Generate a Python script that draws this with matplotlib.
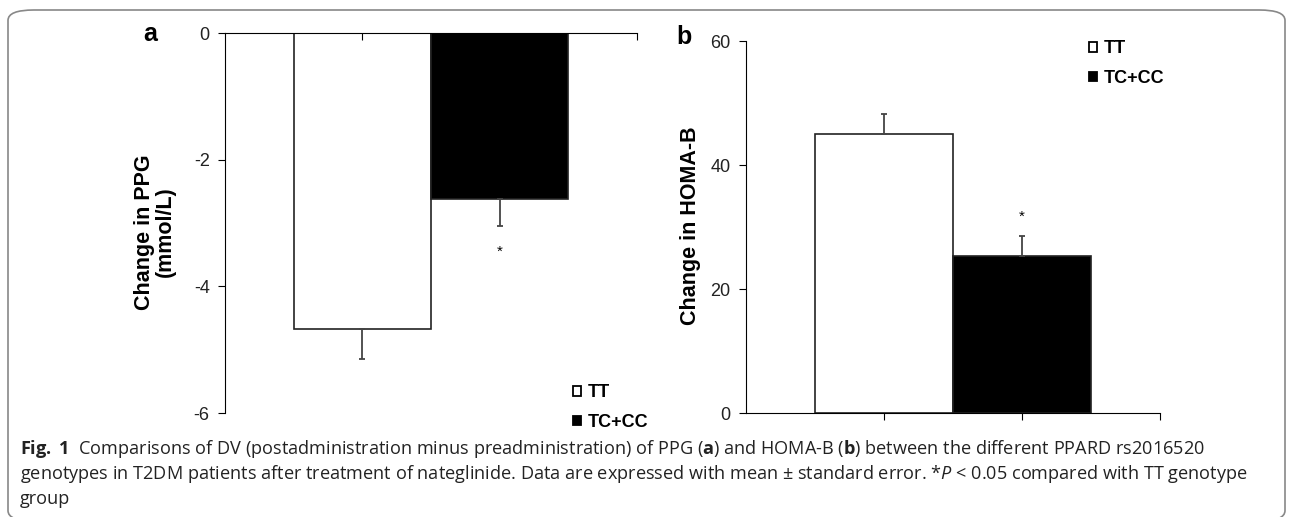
import matplotlib
matplotlib.use("Agg")
import matplotlib.pyplot as plt
from matplotlib.patches import Patch, FancyBboxPatch

# 폰트 설정
plt.rcParams['font.family'] = ['Liberation Sans', 'DejaVu Sans']
plt.rcParams['mathtext.fontset'] = 'custom'
plt.rcParams['mathtext.rm'] = 'Open Sans'
plt.rcParams['mathtext.bf'] = 'Open Sans:bold'
plt.rcParams['mathtext.it'] = 'Open Sans:italic'

# 데이터
groups = ["TT", "TC+CC"]
ppg_change = [-4.68, -2.62]
ppg_err = [0.47, 0.43]
homa_change = [45.0, 25.4]
homa_err = [3.2, 3.1]
bar_colors = ["white", "black"]

W, H = 1293, 517
fig = plt.figure(figsize=(W / 100, H / 100), dpi=100)

# 바깥 테두리
frame = FancyBboxPatch((8 / W, -4 / H), 1277 / W, (H - 10 + 4) / H,
                       boxstyle="round,pad=0,rounding_size=0.02",
                       transform=fig.transFigure, facecolor="none",
                       edgecolor="#888888", linewidth=1.2, clip_on=False)
fig.patches.append(frame)

x = [0, 1]
err_kw = dict(fmt="none", ecolor="#444444", elinewidth=1.3, capsize=2.5, capthick=1.3)

# (a) PPG
ax1 = fig.add_axes([225 / W, 1 - 413 / H, 412 / W, 380 / H])
ax1.bar(x, ppg_change, width=1.0, color=bar_colors, edgecolor="#222222", linewidth=1.2)
ax1.errorbar(x, ppg_change, yerr=[ppg_err, [0, 0]], **err_kw)
ax1.text(1, ppg_change[1] - ppg_err[1] - 0.4, "*", ha="center", va="center", fontsize=11)
ax1.set_xlim(-1, 2)
ax1.set_ylim(-6, 0)
ax1.set_yticks([0, -2, -4, -6])
ax1.set_yticklabels(["0", "-2", "-4", "-6"])
ax1.xaxis.tick_top()
ax1.set_xticks([0, 1, 2])
ax1.set_xticklabels([])
ax1.tick_params(axis="x", direction="in", length=5)
ax1.tick_params(axis="y", direction="out", length=5, labelsize=13, pad=6,
                labelcolor="#222222")
ax1.spines["bottom"].set_visible(False)
ax1.spines["right"].set_visible(False)
ax1.set_ylabel("Change in PPG\n(mmol/L)", fontsize=15.5, fontweight="bold", linespacing=1.0)
ax1.yaxis.set_label_coords(-0.12, 0.476)
fig.text(150 / W, 1 - 34 / H, "a", fontsize=18, fontweight="bold", ha="center", va="center")

# (b) HOMA-B
ax2 = fig.add_axes([746 / W, 1 - 413 / H, 414 / W, 372 / H])
ax2.bar(x, homa_change, width=1.0, color=bar_colors, edgecolor="#222222", linewidth=1.2)
ax2.errorbar(x, homa_change, yerr=[[0, 0], homa_err], **err_kw)
ax2.text(1, homa_change[1] + homa_err[1] + 3.2, "*", ha="center", va="center", fontsize=11)
ax2.set_xlim(-1, 2)
ax2.set_ylim(0, 60)
ax2.set_yticks([0, 20, 40, 60])
ax2.set_xticks([0, 1, 2])
ax2.set_xticklabels([])
ax2.tick_params(axis="x", direction="out", length=5)
ax2.tick_params(axis="y", direction="out", length=5, labelsize=13, pad=6,
                labelcolor="#222222")
ax2.spines["top"].set_visible(False)
ax2.spines["right"].set_visible(False)
ax2.set_ylabel("Change in HOMA-B", fontsize=15.5, fontweight="bold")
ax2.yaxis.set_label_coords(-0.108, 0.503)
fig.text(684 / W, 1 - 37 / H, "b", fontsize=18, fontweight="bold", ha="center", va="center")

# 범례
handles = [Patch(facecolor=c, edgecolor="black", linewidth=1.3) for c in bar_colors]
for ax, anchor in [(ax1, (566 / W, 1 - 377 / H)), (ax2, (1082 / W, 1 - 33 / H))]:
    ax.legend(handles, groups, loc="upper left", bbox_to_anchor=anchor,
              bbox_transform=fig.transFigure, frameon=False,
              handlelength=0.45, handleheight=0.45, handletextpad=0.35,
              labelspacing=0.7, borderaxespad=0,
              prop={"weight": "bold", "size": 13})

# 캡션
cap_lines = [
    r"$\mathbf{Fig.}$ $\mathbf{1}$  Comparisons of DV (postadministration minus preadministration) of PPG ($\mathbf{a}$) and HOMA-B ($\mathbf{b}$) between the different PPARD rs2016520",
    r"genotypes in T2DM patients after treatment of nateglinide. Data are expressed with mean $\pm$ standard error. *$\mathit{P}$ < 0.05 compared with TT genotype",
    "group",
]
for i, line in enumerate(cap_lines):
    fig.text(20 / W, 1 - (449 + 25 * i) / H, line, fontsize=13.1,
             family="Open Sans", va="center", ha="left", color="#222222")

plt.savefig("out.png", dpi=100)
